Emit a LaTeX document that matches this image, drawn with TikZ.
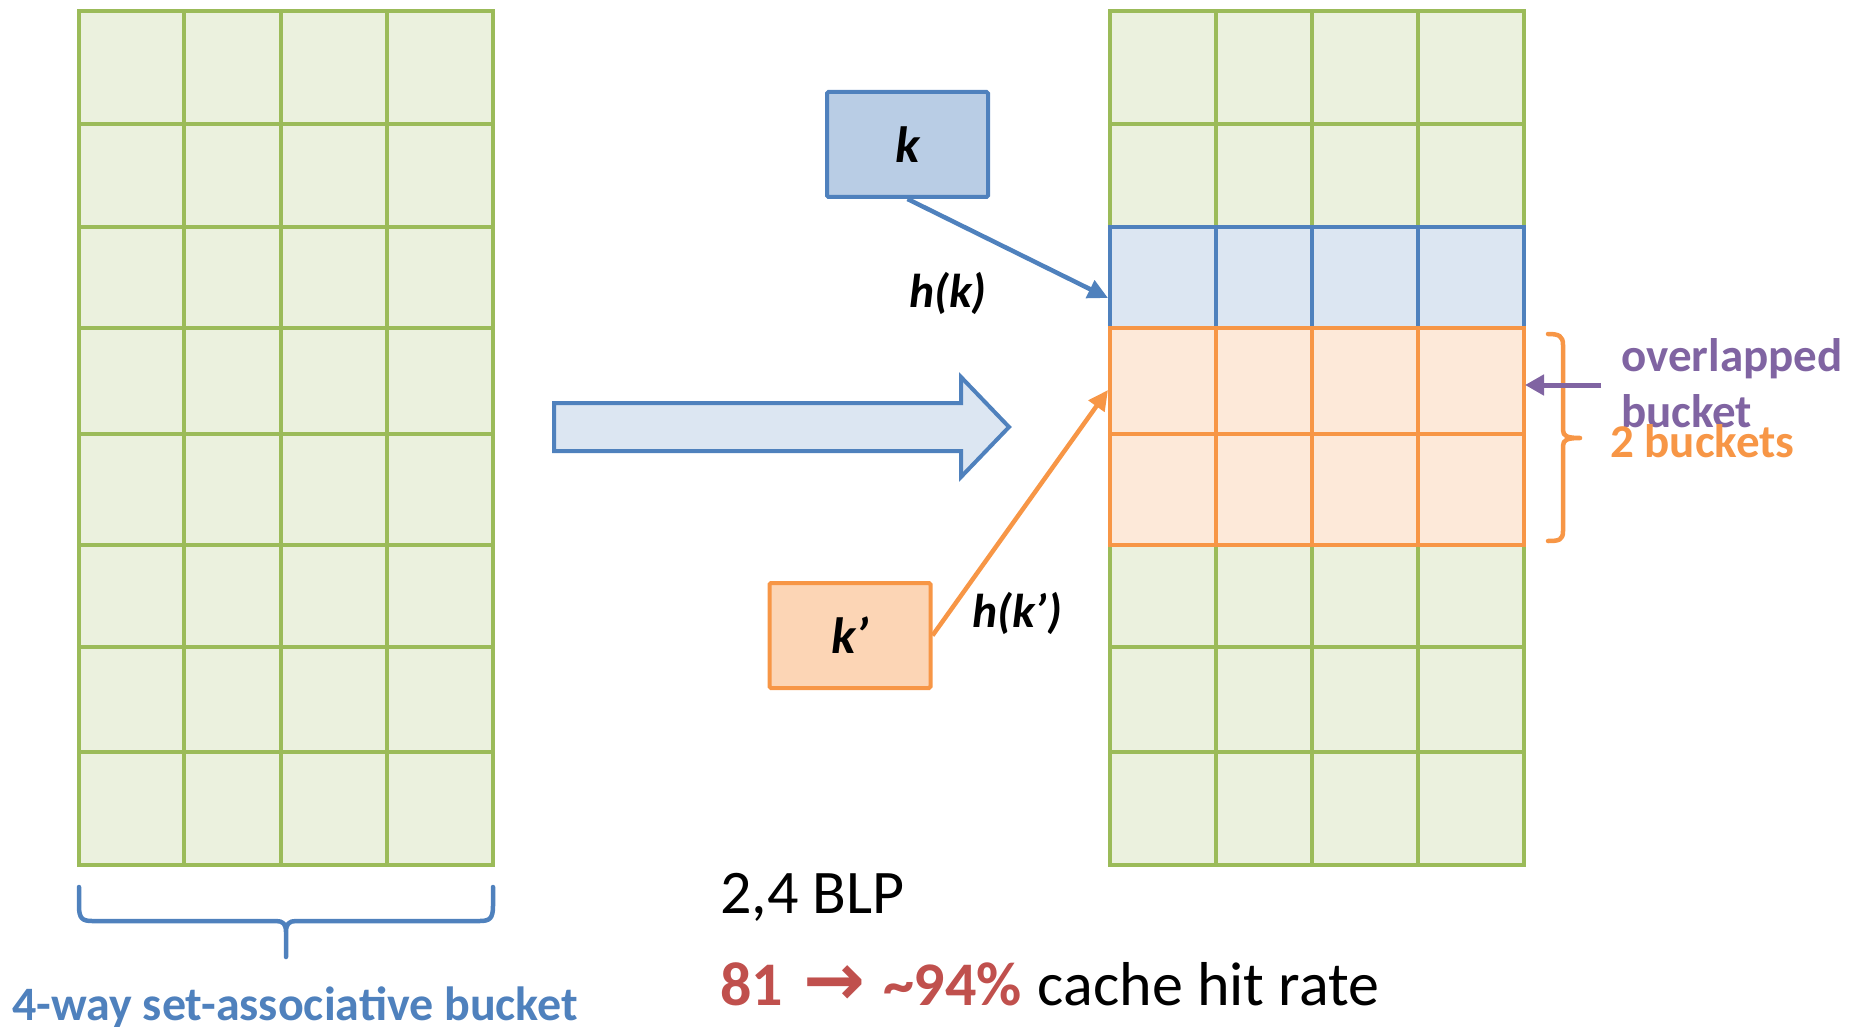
\documentclass[tikz,border=0pt]{standalone}
\usepackage{fontspec}
\setmainfont{Carlito}
\newfontfamily\arrowfont{DejaVu Sans}
\usetikzlibrary{arrows.meta}

\definecolor{gfill}{HTML}{EBF1DE}
\definecolor{gline}{HTML}{9BBB59}
\definecolor{bfill}{HTML}{DCE6F2}
\definecolor{bline}{HTML}{4F81BD}
\definecolor{kfill}{HTML}{B9CDE5}
\definecolor{ofill}{HTML}{FDE9D9}
\definecolor{oline}{HTML}{F79646}
\definecolor{kpfill}{HTML}{FCD5B5}
\definecolor{purp}{HTML}{8064A2}
\definecolor{redt}{HTML}{C0504D}

\tikzset{
  gcell/.style={fill=gfill, draw=gline, line width=4pt},
  bcell/.style={fill=bfill, draw=bline, line width=4pt},
  ocell/.style={fill=ofill, draw=oline, line width=4pt},
  keybox/.style={rectangle, line width=4pt, inner sep=0pt, rounded corners=1.5pt,
    minimum width=161pt, minimum height=105pt,
    font=\fontsize{51}{60}\selectfont\bfseries\itshape},
  hlabel/.style={inner sep=0pt, anchor=base west, font=\fontsize{47.5}{56}\selectfont\bfseries\itshape},
  link/.style={line width=4.5pt, -{Triangle[length=20pt,width=19pt]}},
  bigtext/.style={inner sep=0pt, anchor=base west, font=\fontsize{62}{74}\selectfont},
  sidetext/.style={inner sep=0pt, anchor=base west, font=\fontsize{47}{56}\selectfont\bfseries},
}

\begin{document}
\begin{tikzpicture}[x=1pt, y=-1pt]
\useasboundingbox (0,0) rectangle (1858,1027);

% left table: eight 4-way buckets
\foreach \xa/\xb in {79/184,184/281,281/387,387/493}
  \foreach \ya/\yb in {11/124,124/227,227/328,328/434,434/545,545/647,647/752,752/865}
    \draw[gcell] (\xa,\ya) rectangle (\xb,\yb);

% right table
\foreach \xa/\xb in {1110/1216,1216/1312,1312/1418,1418/1524}
  \foreach \ya/\yb in {11/124,124/227,227/328,328/434,434/545,545/647,647/752,752/865}
    \draw[gcell] (\xa,\ya) rectangle (\xb,\yb);
% bucket selected by h(k)
\foreach \xa/\xb in {1110/1216,1216/1312,1312/1418,1418/1524}
  \draw[bcell] (\xa,227) rectangle (\xb,328);
% two buckets starting at h(k')
\foreach \xa/\xb in {1110/1216,1216/1312,1312/1418,1418/1524}
  \foreach \ya/\yb in {328/434,434/545}
    \draw[ocell] (\xa,\ya) rectangle (\xb,\yb);

% block arrow between the tables
\draw[fill=bfill, draw=bline, line width=4pt]
  (554,403) -- (961,403) -- (961,377) -- (1009,427) -- (961,477) -- (961,451) -- (554,451) -- cycle;

% keys
\node[keybox, fill=kfill, draw=bline] (k) at (907.5,144.5) {k};
\node[keybox, fill=kpfill, draw=oline] (kp) at (850,635.5) {k’};

\coordinate (hkin) at (1108,298);
\coordinate (hkpin) at (1108,390);
\draw[link, bline] (k.south) -- (hkin);
\draw[link, oline] (kp.east) -- (hkpin);

\node[hlabel] (hk) at (909,307) {h(k)};
\node[hlabel] (hkp) at (972,627) {h(k’)};

% brace under the left table
\draw[bline, line width=4.5pt, line cap=round, line join=round]
  (79,887) -- (79,906) .. controls (79,918) and (82,921) .. (92,921) -- (276,921)
  .. controls (283,921) and (286,924) .. (286,932) -- (286,957)
  (286,932) .. controls (286,924) and (289,921) .. (296,921) -- (480,921)
  .. controls (490,921) and (493,918) .. (493,906) -- (493,887);
\node[sidetext, text=bline, font=\fontsize{48}{56}\selectfont\bfseries] (way) at (12,1020) {4-way set-associative bucket};

% brace beside the two buckets
\draw[oline, line width=4.5pt, line cap=round, line join=round]
  (1548,334) .. controls (1559,334) and (1563,336) .. (1563,345) -- (1563,430)
  .. controls (1563,436) and (1567,438) .. (1580,438)
  (1580,438) .. controls (1567,438) and (1563,440) .. (1563,446) -- (1563,531)
  .. controls (1563,540) and (1559,541) .. (1548,541);

% overlapped bucket marker
\coordinate (ovtail) at (1601,385);
\coordinate (ovtip) at (1525,385);
\draw[purp, line width=5pt, -{Triangle[length=19pt,width=20pt]}] (ovtail) -- (ovtip);
\node[sidetext, text=purp] (ov1) at (1621,371) {overlapped};
\node[sidetext, text=purp] (ov2) at (1621,427) {bucket};
\node[sidetext, text=oline] (twob) at (1610,457) {2 buckets};

% results
\node[bigtext] (blp) at (720,913) {2,4 BLP};
\node[bigtext] (hit) at (720,1005) {{\color{redt}\bfseries 81\hspace{20pt}{\arrowfont\bfseries\fontsize{74}{74}\selectfont →}\hspace{18pt}\textasciitilde94\%}\hspace{16pt}cache hit rate};
\end{tikzpicture}
\end{document}
